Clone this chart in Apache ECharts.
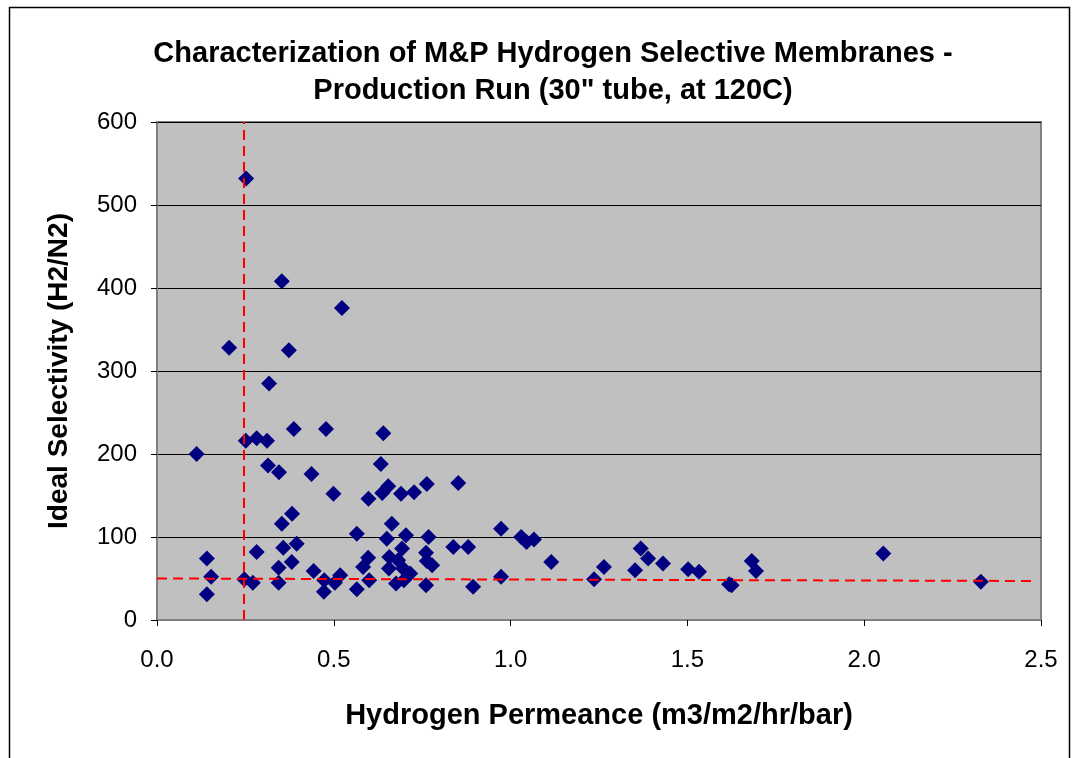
<!DOCTYPE html>
<html>
<head>
<meta charset="utf-8">
<script src="https://cdn.jsdelivr.net/npm/echarts@6/dist/echarts.min.js"></script>
<style>
html,body{margin:0;padding:0;background:#fff;}
#c{width:1073px;height:758px;}
</style>
</head>
<body>
<div id="c"></div>
<script>
const titleText = 'Characterization of M&P Hydrogen Selective Membranes -\nProduction Run (30" tube, at 120C)';
const xName = 'Hydrogen Permeance (m3/m2/hr/bar)';
const yName = 'Ideal Selectivity (H2/N2)';

const permeance = [
0.252,0.353,0.523,0.204,0.373,0.317,0.387,0.478,0.640,0.251,
0.282,0.311,0.112,0.314,0.345,0.437,0.633,0.499,0.598,0.637,
0.654,0.690,0.727,0.763,0.852,0.382,0.353,0.282,0.357,0.395,
0.381,0.344,0.344,0.141,0.153,0.141,0.247,0.271,0.443,0.473,
0.472,0.518,0.503,0.565,0.565,0.583,0.597,0.600,0.664,0.650,
0.657,0.656,0.676,0.704,0.693,0.682,0.696,0.716,0.698,0.768,
0.761,0.763,0.778,0.761,0.838,0.880,0.894,0.973,0.973,1.030,
1.045,1.066,1.115,1.236,1.264,1.368,1.389,1.352,1.431,1.502,
1.533,1.618,1.625,1.682,1.694,2.054,2.330
];
const selectivity = [
532,408,376,328,325,285,230,230,225,216,
219,216,200,186,178,176,188,152,146,153,
161,152,154,164,165,128,116,82,87,92,
70,63,45,74,52,31,49,45,59,48,
34,54,45,104,37,64,75,48,116,98,
76,62,44,102,86,72,62,56,48,100,
81,71,66,42,88,88,40,110,52,100,
94,97,70,49,64,86,74,60,68,61,
58,43,42,71,59,80,46
];

// reference lines
const vLineX = [0.246, 0.246];
const vLineY = [0, 600];
const hLineX = [0, 2.48];
const hLineY = [50, 47];

const xTicks = [0, 0.5, 1.0, 1.5, 2.0, 2.5];
const yTicks = [0, 100, 200, 300, 400, 500, 600];

const zip = (a, b) => a.map((v, i) => [v, b[i]]);

const chart = echarts.init(document.getElementById('c'), null, {renderer: 'canvas'});
const FONT = '"Liberation Sans", Arial, sans-serif';

chart.setOption({
  animation: false,
  backgroundColor: '#ffffff',
  graphic: [{
    type: 'rect', left: 7, top: 5,
    shape: {width: 1060, height: 760},
    style: {fill: 'none', stroke: '#000', lineWidth: 1.5},
    silent: true, z: -1
  }],
  title: {
    text: titleText,
    left: 548,
    textAlign: 'center',
    top: 30,
    textStyle: {fontFamily: FONT, fontWeight: 'bold', fontSize: 29, color: '#000', lineHeight: 37}
  },
  grid: {
    left: 157, top: 122, width: 884, height: 498,
    show: true, backgroundColor: '#C0C0C0', borderColor: '#808080', borderWidth: 2
  },
  xAxis: {
    type: 'value', min: xTicks[0], max: xTicks[xTicks.length - 1], interval: 0.5,
    name: xName, nameLocation: 'middle', nameGap: 81,
    nameTextStyle: {fontFamily: FONT, fontWeight: 'bold', fontSize: 29, color: '#000'},
    axisLine: {show: true, onZero: false, lineStyle: {color: '#808080', width: 2}},
    axisTick: {show: true, inside: false, length: 6, lineStyle: {color: '#000', width: 1}},
    axisLabel: {fontFamily: FONT, fontSize: 24, color: '#000', margin: 28,
      formatter: v => v.toFixed(1)},
    splitLine: {show: false}
  },
  yAxis: {
    type: 'value', min: yTicks[0], max: yTicks[yTicks.length - 1], interval: 100,
    name: yName, nameLocation: 'middle', nameGap: 84,
    nameTextStyle: {fontFamily: FONT, fontWeight: 'bold', fontSize: 28, color: '#000'},
    axisLine: {show: true, lineStyle: {color: '#808080', width: 2}},
    axisTick: {show: true, inside: false, length: 6, lineStyle: {color: '#000', width: 1}},
    axisLabel: {fontFamily: FONT, fontSize: 24, color: '#000', margin: 20},
    splitLine: {show: true, lineStyle: {color: '#000', width: 1}}
  },
  series: [
    {
      type: 'line', data: zip(vLineX, vLineY), symbol: 'none', silent: true,
      lineStyle: {color: '#FF0000', width: 2, type: [10, 6]}, z: 3
    },
    {
      type: 'line', data: zip(hLineX, hLineY), symbol: 'none', silent: true,
      lineStyle: {color: '#FF0000', width: 2, type: [10, 6]}, z: 3
    },
    {
      type: 'scatter', data: zip(permeance, selectivity),
      symbol: 'diamond', symbolSize: 16,
      itemStyle: {color: '#000080', opacity: 1}, z: 2
    }
  ]
});
</script>
</body>
</html>
